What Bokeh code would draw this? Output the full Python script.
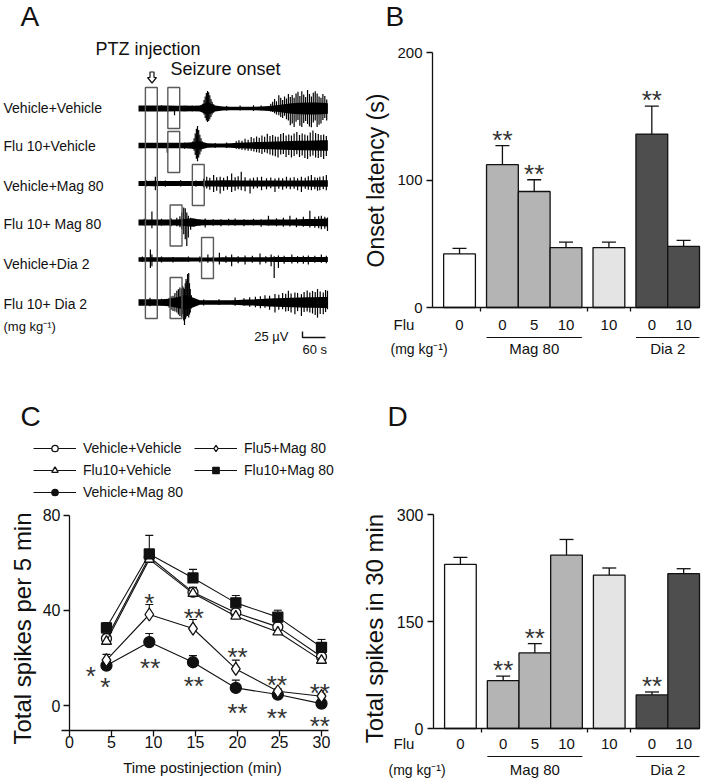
import numpy as np
from bokeh.plotting import figure
from bokeh.layouts import row, column
from bokeh.models import (Range1d, FixedTicker, Legend, LegendItem,
                          Whisker, TeeHead, ColumnDataSource)
from bokeh.core.properties import value
from bokeh.embed import file_html
from bokeh.resources import INLINE

FONT = "Liberation Sans"
INK = "#111111"

# ======================= DATA =======================
# ---- Panel A: EEG traces (time in s, amplitude in uV) ----
A_LABELS = ["Vehicle+Vehicle", "Flu 10+Vehicle", "Vehicle+Mag 80",
            "Flu 10+ Mag 80", "Vehicle+Dia 2", "Flu 10+ Dia 2"]
PTZ_WINDOW = [18, 49]                       # injection marker (s)
ONSET_TIME = [92, 92, 156, 98, 180, 98]     # seizure onset marker (s)
SCALE_T = 60                                # s
SCALE_UV = 25                               # uV
ENV_T = [0, 20, 40, 60, 80, 100, 120, 140, 160, 180, 200, 220, 240,
         260, 280, 300, 320, 340, 360, 380, 400, 420, 440, 460, 480, 494]
ENV_1 = [12, 12, 12, 12, 12, 11, 12, 11, 13, 26, 12, 8, 7, 7, 7, 7, 8, 10, 14, 18, 22, 24, 25, 25, 24, 22]
ENV_2 = [11, 11, 11, 11, 11, 11, 11, 14, 18, 9, 8, 8, 9, 11, 12, 14, 15, 16, 17, 18, 19, 20, 20, 21, 22, 22]
ENV_3 = [10, 10, 11, 10, 10, 10, 10, 10, 10, 12, 13, 14, 14, 13, 12, 12, 12, 12, 13, 13, 13, 13, 13, 14, 14, 14]
ENV_4 = [13, 13, 13, 13, 13, 13, 15, 18, 12, 11, 11, 11, 11, 11, 11, 11, 11, 12, 12, 12, 13, 14, 15, 15, 16, 17]
ENV_5 = [9, 9, 9, 9, 9, 9, 9, 8, 8, 8, 8, 9, 9, 9, 9, 9, 9, 9, 10, 10, 10, 10, 10, 10, 10, 10]
ENV_6 = [14, 14, 14, 14, 16, 22, 30, 22, 9, 9, 9, 9, 9, 10, 12, 13, 15, 17, 18, 19, 20, 21, 22, 22, 23, 23]
# spikes: (time s, up uV, down uV)
SPIKES_1 = [(60, 14, 10), (94, 8, 28), (140, 12, 12), (168, 20, 15), (171, 35, 25), (174, 50, 40),
            (177, 65, 50), (180, 73, 56), (183, 68, 52), (186, 55, 45), (189, 40, 35), (192, 28, 25),
            (196, 18, 18), (230, 10, 8), (265, 12, 8), (300, 14, 10), (320, 12, 8),
            (345, 20, 12), (350, 28, 15), (355, 40, 20), (360, 30, 25), (366, 55, 28), (371, 45, 35),
            (376, 35, 40), (381, 50, 30), (386, 42, 45), (391, 60, 50), (396, 48, 70), (401, 56, 62),
            (406, 45, 77), (411, 62, 55), (416, 70, 48), (421, 52, 72), (426, 72, 77), (431, 58, 60),
            (436, 48, 52), (441, 77, 65), (446, 60, 75), (451, 50, 78), (456, 66, 58), (461, 72, 50),
            (466, 62, 77), (471, 50, 68), (476, 45, 62), (481, 60, 48), (486, 52, 40), (491, 38, 50)]
SPIKES_2 = [(75, 8, 30), (120, 12, 14), (142, 18, 15), (145, 30, 22), (148, 50, 40), (151, 70, 55),
            (154, 81, 66), (157, 65, 50), (160, 45, 38), (163, 30, 25), (166, 18, 15),
            (200, 10, 10), (230, 12, 10), (255, 18, 14), (262, 22, 16), (270, 20, 18), (278, 28, 20),
            (286, 24, 22), (294, 35, 22), (301, 30, 25), (308, 38, 28), (315, 32, 30), (322, 42, 35),
            (329, 36, 28), (336, 49, 32), (343, 40, 38), (350, 44, 42), (357, 38, 45), (364, 36, 50),
            (371, 48, 38), (378, 52, 35), (385, 42, 48), (392, 46, 40), (399, 42, 50), (406, 50, 44),
            (413, 56, 36), (420, 44, 48), (427, 50, 42), (434, 46, 52), (441, 42, 56), (448, 54, 46),
            (455, 62, 42), (462, 52, 50), (469, 48, 52), (476, 44, 48), (483, 46, 56), (490, 40, 44)]
SPIKES_3 = [(20, 14, 12), (44, 28, 28), (70, 12, 14), (110, 14, 12), (150, 12, 14), (170, 20, 16),
            (178, 28, 21), (186, 24, 26), (196, 35, 35), (204, 26, 30), (213, 28, 42), (222, 24, 30),
            (232, 30, 26), (243, 42, 35), (252, 26, 30), (260, 30, 24), (268, 49, 28), (278, 26, 32),
            (291, 21, 42), (300, 24, 22), (310, 26, 20), (321, 28, 28), (334, 22, 24), (345, 25, 20),
            (356, 21, 35), (366, 24, 22), (376, 22, 26), (386, 28, 21), (396, 24, 24), (406, 26, 22),
            (415, 22, 28), (425, 28, 35), (435, 24, 22), (443, 30, 26), (451, 35, 28), (460, 26, 24),
            (467, 24, 30), (473, 28, 28), (482, 30, 24), (490, 35, 28)]
SPIKES_4 = [(15, 16, 12), (35, 46, 24), (60, 16, 14), (85, 18, 16), (100, 20, 16), (108, 26, 20),
            (113, 42, 28), (118, 63, 49), (122, 59, 70), (126, 42, 98), (130, 28, 63), (136, 20, 30),
            (145, 16, 18), (160, 14, 14), (174, 17, 21), (195, 15, 14), (215, 14, 16), (235, 16, 12),
            (252, 17, 14), (275, 14, 16), (300, 16, 12), (320, 14, 18), (339, 28, 14), (360, 18, 16),
            (378, 20, 18), (395, 28, 17), (412, 20, 20), (430, 24, 18), (447, 49, 21), (460, 24, 22),
            (470, 26, 24), (477, 28, 28), (486, 24, 26), (493, 21, 35)]
SPIKES_5 = [(10, 12, 10), (31, 42, 35), (35, 21, 28), (60, 12, 12), (90, 10, 12), (130, 12, 10),
            (160, 12, 12), (181, 21, 14), (195, 14, 16), (211, 28, 21), (228, 16, 14), (243, 21, 28),
            (260, 14, 16), (278, 17, 21), (297, 16, 14), (317, 25, 21), (332, 14, 16), (346, 21, 28),
            (354, 14, 77), (365, 17, 35), (380, 16, 18), (400, 21, 17), (415, 14, 16), (430, 16, 18),
            (443, 17, 21), (460, 16, 14), (477, 21, 14), (490, 16, 16)]
SPIKES_6 = [(30, 20, 16), (60, 16, 14), (80, 20, 22), (85, 26, 30), (90, 28, 35), (95, 40, 38),
            (100, 49, 42), (104, 55, 50), (108, 63, 56), (112, 58, 60), (115, 70, 49), (118, 62, 75),
            (120, 56, 94), (122, 80, 70), (124, 98, 63), (126, 90, 55), (128, 119, 56), (131, 123, 63),
            (133, 80, 50), (135, 56, 42), (138, 30, 25), (170, 12, 12), (210, 14, 10), (252, 21, 14),
            (275, 18, 14), (290, 22, 18), (305, 24, 20), (318, 26, 24), (330, 30, 22), (342, 28, 30),
            (356, 35, 42), (366, 32, 30), (376, 40, 28), (384, 36, 38), (391, 49, 35), (398, 38, 42),
            (408, 42, 49), (415, 40, 36), (425, 35, 56), (432, 44, 40), (440, 50, 38), (447, 42, 42),
            (454, 48, 46), (461, 44, 52), (467, 56, 63), (474, 46, 48), (482, 42, 49), (488, 52, 40),
            (493, 49, 28)]

# ---- Panels B / D: bar charts ----
GROUPS = [["0"], ["0", "5", "10"], ["10"], ["0", "10"]]
GROUP_NAMES = ["", "Mag 80", "", "Dia 2"]
GROUP_COLORS = ["#ffffff", "#b4b4b4", "#e4e4e4", "#4e4e4e"]
B_MEAN = [42, 112, 91, 47, 47, 136, 48]
B_ERR = [4.4, 15, 9.2, 4.2, 4.2, 22, 4.7]
B_SIG = ["", "**", "**", "", "", "**", ""]
D_MEAN = [230, 67, 106, 243, 215, 47, 217]
D_ERR = [10, 6.5, 13, 22, 10, 4.2, 7]
D_SIG = ["", "**", "**", "", "", "**", ""]

# ---- Panel C: time course ----
C_TIME = [4.4, 9.5, 14.7, 19.8, 24.8, 30.0]
C_NAMES = ["Vehicle+Vehicle", "Flu10+Vehicle", "Vehicle+Mag 80", "Flu5+Mag 80", "Flu10+Mag 80"]
C_VV = [28.2, 62.5, 47.7, 39.0, 33.1, 20.5]
C_VV_ERR = [2.0, 3.0, 2.0, 1.5, 1.5, 1.5]
C_F10V = [27.0, 61.5, 47.2, 37.6, 30.9, 19.0]
C_F10V_ERR = [1.5, 3.0, 2.0, 1.5, 1.5, 1.5]
C_VM = [16.8, 26.7, 18.2, 7.4, 4.6, 0.8]
C_VM_ERR = [1.5, 3.6, 2.8, 3.3, 1.7, 2.4]
C_F5M = [19.1, 38.3, 32.4, 15.4, 6.0, 3.9]
C_F5M_ERR = [2.4, 4.2, 3.8, 3.7, 1.0, 1.0]
C_F10M = [32.7, 63.8, 53.7, 43.2, 37.2, 24.5]
C_F10M_ERR = [2.1, 7.8, 3.6, 3.1, 2.9, 3.3]
C_STAR_T = [2.55, 4.25, 9.5, 9.6, 14.8, 14.8, 20.0, 20.0, 24.7, 24.7, 29.8, 29.8]
C_STAR_V = [15.2, 10.7, 46.0, 18.7, 39.7, 11.2, 23.3, 0.0, 11.4, -2.4, 8.1, -5.6]
C_STAR_TXT = ["*", "*", "*", "**", "**", "**", "**", "**", "**", "**", "**", "**"]


# ======================= HELPERS =======================
def panel(box, x0_px, sx, y0_py, sy):
    """Figure whose frame is the whole canvas; data origin placed at page (x0_px, y0_py)."""
    left, top, right, bottom = box
    xr = Range1d((left - x0_px) / sx, (right - x0_px) / sx)
    yr = Range1d((y0_py - bottom) / sy, (y0_py - top) / sy)
    p = figure(width=right - left, height=bottom - top, x_range=xr, y_range=yr,
               output_backend="svg", toolbar_location=None, min_border=0)
    p.outline_line_color = None
    p.grid.visible = False
    fx = lambda px: (px - x0_px) / sx
    fy = lambda py: (y0_py - py) / sy
    return p, fx, fy


def style_axis(ax, tick_size):
    ax.axis_line_color = INK
    ax.axis_line_width = 1.3
    ax.major_tick_line_color = INK
    ax.major_tick_line_width = 1.3
    ax.major_tick_in = 0
    ax.minor_tick_line_color = None
    ax.major_label_text_font = FONT
    ax.major_label_text_font_size = tick_size
    ax.major_label_text_color = INK


def txt(p, xs, ys, texts, size, align="left", base="middle", angle=0, font=FONT, color=INK):
    p.text(x=xs, y=ys, text=texts, text_font=value(font), text_font_size=size,
           text_align=align, text_baseline=base, angle=angle, text_color=color)


# ======================= PANEL A =======================
S_PER_PX = SCALE_T / 23.0
UV_PER_PX = SCALE_UV / 6.0
pa, ax_, ay_ = panel((0, 0, 360, 400), 138, 1 / S_PER_PX, 108, 1 / UV_PER_PX)
pa.axis.visible = False

ROW_PY = [108, 145, 183, 222, 259, 302]
LABEL_PY = [107, 145, 185, 223, 263, 303]
BOX_PY = [107.5, 151.5, 184.5, 225, 257.5, 297.5]

ENVS = [ENV_1, ENV_2, ENV_3, ENV_4, ENV_5, ENV_6]
SPIKES = [SPIKES_1, SPIKES_2, SPIKES_3, SPIKES_4, SPIKES_5, SPIKES_6]
for i in range(6):
    base = ay_(ROW_PY[i])
    env = np.array(ENVS[i], dtype=float)
    pa.varea(x=ENV_T, y1=base - env, y2=base + env, fill_color="black")
    t = [s[0] for s in SPIKES[i]]
    pa.segment(x0=t, x1=t, y0=[base - s[2] for s in SPIKES[i]],
               y1=[base + s[1] for s in SPIKES[i]], line_color="black", line_width=1.2)

BOX_COLOR = "#5a5a5a"
pa.quad(left=[PTZ_WINDOW[0]], right=[PTZ_WINDOW[1]], top=[ay_(87)], bottom=[ay_(318)],
        fill_color=None, line_color=BOX_COLOR, line_width=1.4)
pa.rect(x=ONSET_TIME, y=[ay_(v) for v in BOX_PY], width=31, height=41 * UV_PER_PX,
        fill_color=None, line_color=BOX_COLOR, line_width=1.4)

# hollow down arrow above the PTZ marker
ARW = [(-2, -5.5), (2, -5.5), (2, 0), (4.5, 0), (0, 5.5), (-4.5, 0), (-2, 0)]
pa.patch(x=[ax_(151.5 + a) for a, b in ARW], y=[ay_(77 + b) for a, b in ARW],
         fill_color="white", line_color=INK, line_width=1.2)

# scale bar
t0, v0 = ax_(302), ay_(337)
pa.line(x=[t0, t0, t0 + SCALE_T], y=[v0 + SCALE_UV, v0, v0], line_color=INK, line_width=1.4)

txt(pa, [ax_(3)] * 6, [ay_(v) for v in LABEL_PY], A_LABELS, "14px")
txt(pa, [ax_(3)], [ay_(326)], ["(mg kg\u207b\u00b9)"], "13px")
txt(pa, [ax_(20)], [ay_(16)], ["A"], "28px")
txt(pa, [ax_(95), ax_(170)], [ay_(48), ay_(68)], ["PTZ injection", "Seizure onset"], "18px")
txt(pa, [ax_(288)], [ay_(336)], ["25 \u00b5V"], "13px", align="right")
txt(pa, [ax_(302)], [ay_(349)], ["60 s"], "13px")

# ======================= BAR PANELS =======================
GAP = 0.35
bar_x, bar_group, spans = [], [], []
pos = GAP
for gi, g in enumerate(GROUPS):
    start = pos
    for _ in g:
        bar_x.append(pos + 0.5)
        bar_group.append(gi)
        pos += 1
    spans.append((start, pos))
    pos += GAP
X_END = pos - GAP
SEPS = [(spans[i][1] + spans[i + 1][0]) / 2 for i in range(len(spans) - 1)]
DOSES = [d for g in GROUPS for d in g]


def bar_panel(box, axis_px, frame_w, frame_h, ymax, yticks, mean, err, sig, ylabel,
              ylabel_size, ylabel_px, letter_px, tick_std, lay):
    p, fx, fy = panel(box, axis_px[0], frame_w / X_END, axis_px[1], frame_h / ymax)
    colors = [GROUP_COLORS[g] for g in bar_group]
    p.vbar(x=bar_x, top=mean, bottom=0, width=1, fill_color=colors, line_color=INK, line_width=1.3)
    up = [m + e for m, e in zip(mean, err)]
    src = ColumnDataSource(dict(x=bar_x, lower=mean, upper=up))
    p.add_layout(Whisker(source=src, base="x", lower="lower", upper="upper", dimension="height",
                         line_color=INK, line_width=1.3, lower_head=None,
                         upper_head=TeeHead(size=14, line_color=INK, line_width=1.3)))
    sx = [x for x, s in zip(bar_x, sig) if s]
    sy = [u for u, s in zip(up, sig) if s]
    p.text(x=sx, y=sy, text=[s for s in sig if s], text_font=value(FONT), text_font_size="26px",
           text_align="center", text_baseline="alphabetic", y_offset=-6, text_color="#333333")
    # axes (drawn at the data origin)
    ya = p.yaxis[0]
    style_axis(ya, "15px" if ymax < 250 else "16px")
    ya.fixed_location = 0
    ya.bounds = (0, ymax)
    ya.ticker = FixedTicker(ticks=yticks)
    ya.major_tick_out = 6
    ya.major_label_standoff = 4
    xa = p.xaxis[0]
    style_axis(xa, "15px")
    xa.fixed_location = 0
    xa.bounds = (0, X_END)
    xa.ticker = FixedTicker(ticks=bar_x, minor_ticks=SEPS)
    xa.major_label_overrides = {x: d for x, d in zip(bar_x, DOSES)}
    xa.major_tick_line_color = None
    xa.major_tick_out = 0
    xa.minor_tick_line_color = INK
    xa.minor_tick_line_width = 1.3
    xa.minor_tick_out = 4
    xa.minor_tick_in = 0
    xa.major_label_standoff = tick_std
    # texts
    txt(p, [fx(ylabel_px[0])], [fy(ylabel_px[1])], [ylabel], ylabel_size, align="center",
        angle=np.pi / 2)
    txt(p, [fx(letter_px[0])], [fy(letter_px[1])], [letter_px[2]], "28px")
    txt(p, [fx(lay["flu_x"])], [fy(lay["flu"])], ["Flu"], "15px")
    txt(p, [fx(lay["mg_x"])], [fy(lay["mg"])], ["(mg kg\u207b\u00b9)"], "14px")
    for (s0, s1), name in zip(spans, GROUP_NAMES):
        if not name:
            continue
        p.segment(x0=[s0], x1=[s1], y0=[fy(lay["line"])], y1=[fy(lay["line"])],
                  line_color=INK, line_width=1.2)
        txt(p, [(s0 + s1) / 2], [fy(lay["grp"])], [name], "15px", align="center")
    return p


pb = bar_panel((360, 0, 708, 400), (432, 307), 267, 255, 200, [0, 100, 200],
               B_MEAN, B_ERR, B_SIG, "Onset latency (s)", "23px", (375, 180),
               (385, 16, "B"), 8, dict(flu_x=393, flu=324, mg_x=390, mg=348, line=337, grp=348))
pd = bar_panel((360, 400, 708, 778), (433, 728), 266, 214, 300, [0, 150, 300],
               D_MEAN, D_ERR, D_SIG, "Total spikes in 30 min", "24px", (374, 628),
               (387, 416, "D"), 6, dict(flu_x=393, flu=743, mg_x=388, mg=769, line=756, grp=769))

# ======================= PANEL C =======================
pc, cx_, cy_ = panel((0, 400, 360, 778), 69, 8.4, 705, 2.376)
series = [
    (C_NAMES[0], C_VV, C_VV_ERR, "circle", "white", 10),
    (C_NAMES[1], C_F10V, C_F10V_ERR, "triangle", "white", 10),
    (C_NAMES[2], C_VM, C_VM_ERR, "circle", INK, 11),
    (C_NAMES[3], C_F5M, C_F5M_ERR, "diamond", "white", 13),
    (C_NAMES[4], C_F10M, C_F10M_ERR, "square", INK, 10),
]
for name, ys, es, marker, fill, size in series:
    up = [y + e for y, e in zip(ys, es)]
    src = ColumnDataSource(dict(x=C_TIME, lower=ys, upper=up))
    pc.add_layout(Whisker(source=src, base="x", lower="lower", upper="upper", dimension="height",
                          line_color=INK, line_width=1.1, lower_head=None,
                          upper_head=TeeHead(size=8, line_color=INK, line_width=1.1)))
items = {}
for name, ys, es, marker, fill, size in series:
    lr = pc.line(x=C_TIME, y=ys, line_color=INK, line_width=1.1)
    sr = pc.scatter(x=C_TIME, y=ys, marker=marker, size=size, fill_color=fill,
                    line_color=INK, line_width=1.3)
    items[name] = LegendItem(label=name, renderers=[lr, sr])

pc.text(x=C_STAR_T, y=C_STAR_V, text=C_STAR_TXT, text_font=value(FONT), text_font_size="26px",
        text_align="center", text_baseline="alphabetic", y_offset=7, text_color="#333333")

legend = Legend(items=[items[n] for n in C_NAMES], location=(33, 278), orientation="vertical",
                nrows=3, glyph_width=43, glyph_height=16, label_height=16, label_width=105,
                spacing=6, label_standoff=7, padding=0, margin=0, border_line_color=None,
                background_fill_alpha=0, label_text_font=FONT, label_text_font_size="14px",
                label_text_color=INK)
pc.add_layout(legend)

cy = pc.yaxis[0]
style_axis(cy, "16px")
cy.fixed_location = 0
cy.bounds = (-10.5, 80)
cy.ticker = FixedTicker(ticks=[0, 40, 80])
cy.major_tick_out = 6
cy.major_label_standoff = 3
cx = pc.xaxis[0]
style_axis(cx, "16px")
cx.fixed_location = -10.5
cx.bounds = (-1, 30.8)
cx.ticker = FixedTicker(ticks=[0, 5, 10, 15, 20, 25, 30])
cx.major_tick_out = 6
cx.major_label_standoff = 0
txt(pc, [cx_(22)], [cy_(628)], ["Total spikes per 5 min"], "24px", align="center", angle=np.pi / 2)
txt(pc, [cx_(202)], [cy_(767)], ["Time postinjection (min)"], "15px", align="center")
txt(pc, [cx_(20)], [cy_(416)], ["C"], "28px")

layout = column(row(pa, pb), row(pc, pd))
open("out.html", "w").write(file_html(layout, INLINE))
